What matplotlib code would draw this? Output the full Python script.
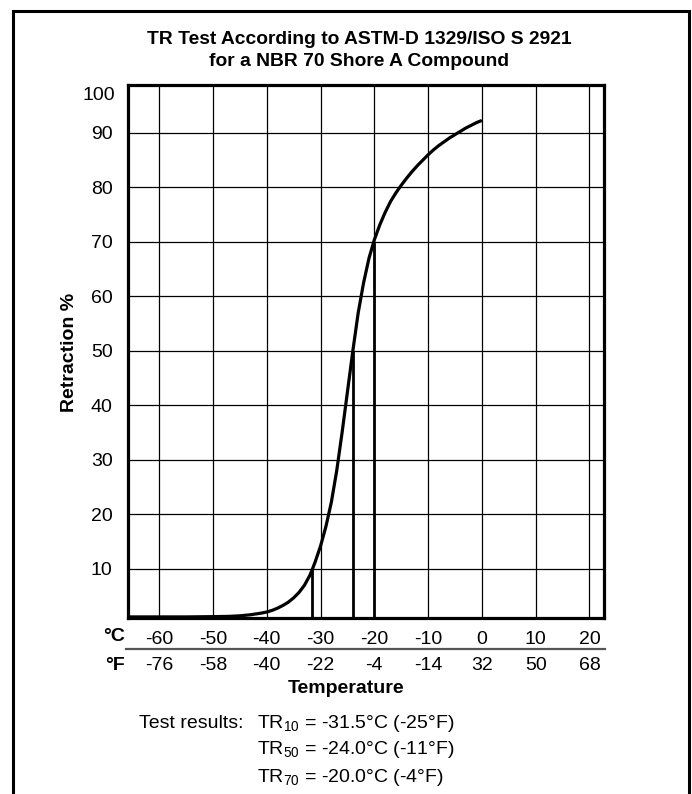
import matplotlib
matplotlib.use("Agg")
import matplotlib.pyplot as plt
from matplotlib.patches import Rectangle
from matplotlib.lines import Line2D

plt.rcParams['font.family'] = ['Liberation Sans', 'DejaVu Sans']
plt.rcParams['mathtext.fontset'] = 'custom'
plt.rcParams['mathtext.rm'] = 'Liberation Sans'
plt.rcParams['mathtext.it'] = 'Liberation Sans:italic'
plt.rcParams['mathtext.bf'] = 'Liberation Sans:bold'

# ---- data ----
temp_c = [-65.8, -55, -50, -47, -45, -43, -42, -41, -40, -39, -38, -37, -36, -35,
          -34, -33, -32, -31.5, -31, -30, -29, -28, -27, -26, -25, -24, -23, -22,
          -21, -20, -19, -18, -17, -16, -15, -14, -13, -12, -11, -10, -9, -8, -7,
          -6, -5, -4, -3, -2, -1, 0]
retraction = [1.2, 1.2, 1.25, 1.3, 1.4, 1.6, 1.75, 1.9, 2.1, 2.4, 2.8, 3.3, 3.9, 4.7,
              5.7, 7.0, 8.8, 10, 11.3, 14.2, 17.8, 22.2, 28, 35, 42.5, 50, 57, 62.5,
              67, 70.4, 73.1, 75.4, 77.4, 79.0, 80.4, 81.7, 82.9, 84.0, 85.0, 86.0,
              86.9, 87.7, 88.4, 89.1, 89.7, 90.3, 90.9, 91.4, 91.9, 92.3]

c_ticks = [-60, -50, -40, -30, -20, -10, 0, 10, 20]
c_labels = ['-60', '-50', '-40', '-30', '-20', '-10', '0', '10', '20']
f_labels = ['-76', '-58', '-40', '-22', '-4', '-14', '32', '50', '68']
y_ticks = [10, 20, 30, 40, 50, 60, 70, 80, 90]
y_labels = ['10', '20', '30', '40', '50', '60', '70', '80', '90']

tr_names = ['10', '50', '70']
tr_c = [-31.5, -24.0, -20.0]
tr_f = [-25, -11, -4]
tr_pct = [10, 50, 70]

title_lines = ['TR Test According to ASTM-D 1329/ISO S 2921',
               'for a NBR 70 Shore A Compound']

# ---- figure ----
W, H = 692, 794
fig = plt.figure(figsize=(W / 100, H / 100), dpi=100)
ax = fig.add_axes([128 / W, 1 - 618 / H, (604 - 128) / W, (618 - 85) / H])

xmin, xmax = -65.8, 22.7
ymin, ymax = 1.0, 98.8
ax.set_xlim(xmin, xmax)
ax.set_ylim(ymin, ymax)

ax.set_xticks(c_ticks)
ax.set_xticklabels(c_labels, fontsize=14)
ax.set_yticks(y_ticks)
ax.set_yticklabels(y_labels, fontsize=14)
ax.tick_params(axis='both', length=0)
ax.tick_params(axis='x', pad=9)
ax.tick_params(axis='y', pad=11)
ax.grid(True, color='black', linewidth=0.9)
ax.set_axisbelow(True)
for s in ax.spines.values():
    s.set_linewidth(2.3)
    s.set_color('black')

ax.plot(temp_c, retraction, color='black', linewidth=2.3, solid_capstyle='butt',
        solid_joinstyle='round', zorder=3)
ax.vlines(tr_c, ymin, tr_pct, color='black', linewidth=2.0, zorder=3)

# "100" label at top
ax.text(-0.027, 0.981, '100', transform=ax.transAxes, ha='right', va='center', fontsize=14)

# Fahrenheit row and separator
xt = ax.get_xaxis_transform()
for x, lab in zip(c_ticks, f_labels):
    ax.text(x, -0.0882, lab, transform=xt, ha='center', va='center', fontsize=14)
ax.add_line(Line2D([-0.004, 1.002], [-0.058, -0.058], transform=ax.transAxes,
                   color='#555555', linewidth=1.6, clip_on=False))
ax.text(-0.006, -0.0338, '°C', transform=ax.transAxes, ha='right', va='center',
        fontsize=14, fontweight='bold')
ax.text(-0.006, -0.0882, '°F', transform=ax.transAxes, ha='right', va='center',
        fontsize=14, fontweight='bold')
ax.text(0.458, -0.133, 'Temperature', transform=ax.transAxes, ha='center', va='center',
        fontsize=14, fontweight='bold')
ax.text(-0.122, 0.499, 'Retraction %', transform=ax.transAxes, ha='center', va='center',
        rotation=90, fontsize=14, fontweight='bold')

# Title
fig.text(359 / W, 1 - 40 / H, title_lines[0], ha='center', va='center', fontsize=13.9,
         fontweight='bold')
fig.text(359 / W, 1 - 61 / H, title_lines[1], ha='center', va='center', fontsize=13.9,
         fontweight='bold')

# Test results
fig.text(139 / W, 1 - 723 / H, 'Test results:', ha='left', va='center', fontsize=14)
ys = [723, 750, 778]
for name, c, f, y in zip(tr_names, tr_c, tr_f, ys):
    fig.text(257 / W, 1 - y / H, 'TR$_{%s}$ = %.1f°C (%d°F)' % (name, c, f),
             ha='left', va='center', fontsize=14)

# Outer frame
fig.add_artist(Rectangle((12.5 / W, -0.05), (689 - 12.5) / W, (1 - 11 / H) + 0.05,
                         transform=fig.transFigure, fill=False, edgecolor='black',
                         linewidth=2.2, clip_on=False))

fig.savefig('out.png', dpi=100)
